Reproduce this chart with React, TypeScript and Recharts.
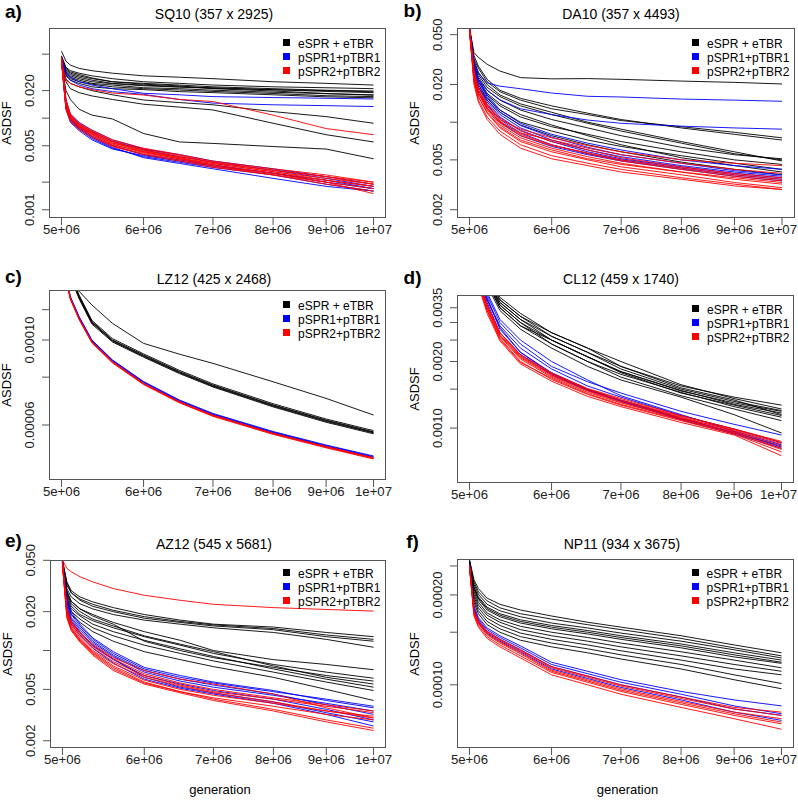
import React from 'react'
import { LineChart, Line, XAxis, YAxis } from 'recharts'

// generations at which each run is sampled
const GENS = [5.0e6, 5.05e6, 5.1e6, 5.2e6, 5.35e6, 5.6e6, 6.0e6, 6.5e6, 7.0e6, 8.0e6, 9.0e6, 1.0e7]
const X_TICKS = [5e6, 6e6, 7e6, 8e6, 9e6, 1e7]
const X_LABELS = ['5e+06', '6e+06', '7e+06', '8e+06', '9e+06', '1e+07']
const X_DOMAIN = [4.8634e6, 1.0281e7]

const SERIES_NAMES = ['eSPR + eTBR', 'pSPR1+pTBR1', 'pSPR2+pTBR2']
const SERIES_COLORS = ['#000000', '#0000FF', '#FF0000']

// ---- a) SQ10 ----
const SQ10_BLACK = [
  [0.054, 0.042, 0.038, 0.035, 0.033, 0.031, 0.029, 0.028, 0.027, 0.025, 0.024, 0.023],
  [0.048, 0.036, 0.033, 0.031, 0.029, 0.027, 0.025, 0.024, 0.023, 0.022, 0.0215, 0.021],
  [0.046, 0.034, 0.031, 0.029, 0.027, 0.025, 0.024, 0.023, 0.022, 0.021, 0.0202, 0.0198],
  [0.044, 0.033, 0.030, 0.028, 0.026, 0.024, 0.023, 0.022, 0.0215, 0.0205, 0.020, 0.0194],
  [0.042, 0.031, 0.028, 0.026, 0.024, 0.023, 0.0215, 0.021, 0.0202, 0.0192, 0.0185, 0.018],
  [0.043, 0.030, 0.027, 0.025, 0.0235, 0.022, 0.021, 0.0203, 0.0196, 0.0186, 0.0176, 0.0172],
  [0.047, 0.035, 0.032, 0.030, 0.0275, 0.025, 0.0235, 0.0225, 0.021, 0.0198, 0.0186, 0.0178],
  [0.041, 0.029, 0.026, 0.024, 0.022, 0.021, 0.0205, 0.0195, 0.019, 0.018, 0.0171, 0.0167],
  [0.045, 0.032, 0.029, 0.027, 0.025, 0.0238, 0.0226, 0.0218, 0.0212, 0.0204, 0.0196, 0.019],
  [0.041, 0.027, 0.024, 0.022, 0.020, 0.018, 0.0158, 0.0148, 0.014, 0.0118, 0.0104, 0.0088],
  [0.039, 0.025, 0.021, 0.019, 0.0175, 0.016, 0.0142, 0.0132, 0.0123, 0.0088, 0.0066, 0.0055],
  [0.041, 0.020, 0.016, 0.0125, 0.0108, 0.0098, 0.0068, 0.0055, 0.0053, 0.0049, 0.0046, 0.0036],
]
const SQ10_BLUE = [
  [0.047, 0.032, 0.028, 0.025, 0.023, 0.021, 0.0187, 0.018, 0.0172, 0.0168, 0.0165, 0.0162],
  [0.045, 0.030, 0.026, 0.023, 0.021, 0.0195, 0.0182, 0.016, 0.0146, 0.014, 0.0137, 0.0134],
  [0.045, 0.0145, 0.0100, 0.0080, 0.0064, 0.0050, 0.0040, 0.0035, 0.0031, 0.0025, 0.0020, 0.0017],
  [0.043, 0.0130, 0.0094, 0.0076, 0.0060, 0.0047, 0.0038, 0.0033, 0.0029, 0.0024, 0.0019, 0.0016],
  [0.046, 0.0155, 0.0108, 0.0086, 0.0071, 0.0056, 0.0045, 0.0038, 0.0033, 0.0027, 0.0022, 0.0018],
  [0.044, 0.0138, 0.0097, 0.0078, 0.0062, 0.0048, 0.0037, 0.0032, 0.0028, 0.0022, 0.0018, 0.0016],
  [0.047, 0.0160, 0.0110, 0.0090, 0.0074, 0.0058, 0.0046, 0.0040, 0.0034, 0.0028, 0.0023, 0.0019],
  [0.042, 0.0125, 0.0090, 0.0073, 0.0058, 0.0046, 0.0039, 0.0034, 0.0030, 0.0025, 0.0021, 0.0017],
]
const SQ10_RED = [
  [0.042, 0.026, 0.024, 0.022, 0.0205, 0.0188, 0.0179, 0.016, 0.0152, 0.0108, 0.0077, 0.0066],
  [0.046, 0.0150, 0.0105, 0.0084, 0.0070, 0.0055, 0.0044, 0.0038, 0.0033, 0.0027, 0.0023, 0.0019],
  [0.044, 0.0135, 0.0098, 0.0080, 0.0066, 0.0052, 0.0042, 0.0036, 0.0031, 0.0025, 0.0021, 0.0018],
  [0.047, 0.0158, 0.0112, 0.0088, 0.0074, 0.0058, 0.0047, 0.0040, 0.0034, 0.0028, 0.0024, 0.0020],
  [0.043, 0.0125, 0.0092, 0.0075, 0.0062, 0.0049, 0.0040, 0.0034, 0.0029, 0.0024, 0.0019, 0.0016],
  [0.045, 0.0142, 0.0100, 0.0082, 0.0068, 0.0054, 0.0043, 0.0037, 0.0032, 0.0026, 0.0022, 0.0019],
  [0.046, 0.0148, 0.0108, 0.0086, 0.0072, 0.0056, 0.0045, 0.0037, 0.0030, 0.0025, 0.0020, 0.0017],
  [0.042, 0.0130, 0.0095, 0.0078, 0.0064, 0.0050, 0.0041, 0.0035, 0.0030, 0.0024, 0.0020, 0.0015],
  [0.044, 0.0140, 0.0102, 0.0083, 0.0069, 0.0053, 0.0046, 0.0039, 0.0033, 0.0027, 0.0023, 0.0020],
  [0.045, 0.0146, 0.0103, 0.0081, 0.0067, 0.0051, 0.0043, 0.0036, 0.0032, 0.0026, 0.0021, 0.0018],
]
const SQ10_Y_TICKS = [0.001, 0.002, 0.005, 0.01, 0.02, 0.05]
const SQ10_Y_LABELS = ['0.001', '', '0.005', '', '0.020', '']

// ---- b) DA10 ----
const DA10_BLACK = [
  [0.0565, 0.036, 0.033, 0.029, 0.0256, 0.0227, 0.0222, 0.0223, 0.022, 0.0213, 0.0208, 0.0202],
  [0.0565, 0.034, 0.028, 0.022, 0.018, 0.0155, 0.0135, 0.0118, 0.0105, 0.0090, 0.0080, 0.0072],
  [0.0565, 0.032, 0.027, 0.021, 0.0175, 0.0150, 0.0128, 0.0115, 0.0103, 0.0092, 0.0083, 0.0075],
  [0.056, 0.030, 0.024, 0.019, 0.0160, 0.0135, 0.0115, 0.0098, 0.0085, 0.0068, 0.0056, 0.0050],
  [0.056, 0.029, 0.023, 0.018, 0.0150, 0.0125, 0.0105, 0.0090, 0.0078, 0.0063, 0.0055, 0.0051],
  [0.0565, 0.031, 0.025, 0.020, 0.0165, 0.0140, 0.0120, 0.0100, 0.0088, 0.0070, 0.0058, 0.0049],
  [0.055, 0.027, 0.021, 0.0165, 0.0135, 0.0110, 0.0092, 0.0080, 0.0070, 0.0058, 0.0050, 0.0046],
  [0.055, 0.026, 0.020, 0.0155, 0.0125, 0.0100, 0.0085, 0.0072, 0.0064, 0.0054, 0.0047, 0.0042],
  [0.056, 0.028, 0.022, 0.017, 0.0140, 0.0115, 0.0095, 0.0078, 0.0066, 0.0052, 0.0045, 0.0040],
  [0.055, 0.025, 0.019, 0.015, 0.0120, 0.0095, 0.0078, 0.0066, 0.0058, 0.0048, 0.0042, 0.0038],
]
const DA10_BLUE = [
  [0.0565, 0.030, 0.0247, 0.0206, 0.0194, 0.0185, 0.0171, 0.0161, 0.0159, 0.0153, 0.0150, 0.0147],
  [0.0565, 0.028, 0.022, 0.018, 0.0151, 0.0128, 0.0115, 0.0104, 0.0098, 0.0093, 0.0090, 0.0088],
  [0.056, 0.026, 0.020, 0.0150, 0.0115, 0.0090, 0.0072, 0.0060, 0.0053, 0.0045, 0.0040, 0.0037],
  [0.055, 0.024, 0.018, 0.0138, 0.0105, 0.0082, 0.0066, 0.0056, 0.0050, 0.0043, 0.0038, 0.0035],
  [0.056, 0.028, 0.022, 0.0165, 0.0125, 0.0098, 0.0080, 0.0068, 0.0060, 0.0050, 0.0045, 0.0042],
  [0.055, 0.022, 0.017, 0.0130, 0.0100, 0.0078, 0.0064, 0.0055, 0.0049, 0.0042, 0.0037, 0.0034],
  [0.055, 0.025, 0.019, 0.0145, 0.0110, 0.0086, 0.0070, 0.0058, 0.0051, 0.0044, 0.0039, 0.0036],
  [0.056, 0.027, 0.021, 0.0160, 0.0120, 0.0094, 0.0076, 0.0063, 0.0055, 0.0047, 0.0041, 0.0038],
]
const DA10_RED = [
  [0.056, 0.024, 0.017, 0.0125, 0.0095, 0.0075, 0.0062, 0.0053, 0.0047, 0.0040, 0.0035, 0.0032],
  [0.055, 0.022, 0.016, 0.0118, 0.0090, 0.0070, 0.0058, 0.0050, 0.0044, 0.0038, 0.0033, 0.0030],
  [0.056, 0.026, 0.018, 0.0135, 0.0102, 0.0080, 0.0066, 0.0056, 0.0049, 0.0042, 0.0037, 0.0034],
  [0.054, 0.021, 0.015, 0.0110, 0.0085, 0.0066, 0.0054, 0.0047, 0.0042, 0.0036, 0.0032, 0.0029],
  [0.055, 0.023, 0.017, 0.0128, 0.0098, 0.0078, 0.0065, 0.0057, 0.0050, 0.0043, 0.0038, 0.0035],
  [0.056, 0.025, 0.019, 0.0140, 0.0108, 0.0085, 0.0070, 0.0060, 0.0052, 0.0044, 0.0039, 0.0036],
  [0.054, 0.020, 0.0145, 0.0105, 0.0080, 0.0062, 0.0051, 0.0045, 0.0040, 0.0035, 0.0031, 0.0029],
  [0.055, 0.024, 0.018, 0.0130, 0.0100, 0.0082, 0.0072, 0.0062, 0.0055, 0.0047, 0.0042, 0.0039],
  [0.055, 0.022, 0.016, 0.0120, 0.0092, 0.0072, 0.0060, 0.0051, 0.0046, 0.0040, 0.0036, 0.0033],
  [0.056, 0.025, 0.018, 0.0135, 0.0105, 0.0088, 0.0075, 0.0065, 0.0058, 0.0050, 0.0047, 0.0045],
]
const DA10_Y_TICKS = [0.002, 0.005, 0.01, 0.02, 0.05]
const DA10_Y_LABELS = ['0.002', '0.005', '', '0.020', '0.050']

// ---- c) LZ12 ----
const LZ12_BLACK = [
  [1.85e-4, 1.62e-4, 1.50e-4, 1.34e-4, 1.234e-4, 1.105e-4, 9.8e-5, 9.18e-5, 8.69e-5, 7.78e-5, 7.04e-5, 6.37e-5],
  [1.80e-4, 1.60e-4, 1.48e-4, 1.30e-4, 1.117e-4, 1.00e-4, 9.14e-5, 8.27e-5, 7.63e-5, 6.77e-5, 6.18e-5, 5.76e-5],
  [1.79e-4, 1.59e-4, 1.47e-4, 1.29e-4, 1.108e-4, 9.93e-5, 9.06e-5, 8.21e-5, 7.57e-5, 6.72e-5, 6.13e-5, 5.72e-5],
  [1.81e-4, 1.61e-4, 1.49e-4, 1.31e-4, 1.125e-4, 1.008e-4, 9.2e-5, 8.33e-5, 7.68e-5, 6.82e-5, 6.22e-5, 5.8e-5],
  [1.78e-4, 1.58e-4, 1.46e-4, 1.28e-4, 1.10e-4, 9.88e-5, 9.02e-5, 8.17e-5, 7.54e-5, 6.69e-5, 6.10e-5, 5.69e-5],
  [1.80e-4, 1.60e-4, 1.475e-4, 1.295e-4, 1.113e-4, 9.97e-5, 9.1e-5, 8.24e-5, 7.6e-5, 6.75e-5, 6.16e-5, 5.74e-5],
]
const LZ12_BLUE = [
  [1.76e-4, 1.46e-4, 1.295e-4, 1.148e-4, 9.98e-5, 8.85e-5, 7.77e-5, 6.95e-5, 6.41e-5, 5.75e-5, 5.3e-5, 4.96e-5],
  [1.75e-4, 1.455e-4, 1.29e-4, 1.143e-4, 9.94e-5, 8.81e-5, 7.74e-5, 6.92e-5, 6.39e-5, 5.73e-5, 5.28e-5, 4.94e-5],
  [1.76e-4, 1.462e-4, 1.297e-4, 1.15e-4, 1.0e-4, 8.87e-5, 7.79e-5, 6.97e-5, 6.43e-5, 5.77e-5, 5.32e-5, 4.98e-5],
]
const LZ12_RED = [
  [1.75e-4, 1.45e-4, 1.285e-4, 1.139e-4, 9.9e-5, 8.78e-5, 7.71e-5, 6.9e-5, 6.37e-5, 5.71e-5, 5.27e-5, 4.93e-5],
  [1.74e-4, 1.445e-4, 1.28e-4, 1.134e-4, 9.86e-5, 8.74e-5, 7.68e-5, 6.87e-5, 6.34e-5, 5.69e-5, 5.25e-5, 4.91e-5],
  [1.745e-4, 1.448e-4, 1.283e-4, 1.136e-4, 9.88e-5, 8.76e-5, 7.69e-5, 6.88e-5, 6.35e-5, 5.7e-5, 5.26e-5, 4.92e-5],
  [1.73e-4, 1.44e-4, 1.276e-4, 1.13e-4, 9.82e-5, 8.71e-5, 7.65e-5, 6.85e-5, 6.32e-5, 5.67e-5, 5.23e-5, 4.89e-5],
]
const LZ12_Y_TICKS = [0.00006, 0.00008, 0.0001, 0.00012]
const LZ12_Y_LABELS = ['0.00006', '', '0.00010', '']

// ---- d) CL12 ----
const CL12_BLACK = [
  [0.0082, 0.0070, 0.0060, 0.0049, 0.0039, 0.0033, 0.0027, 0.0023, 0.0019, 0.00155, 0.00138, 0.00127],
  [0.0080, 0.0068, 0.0058, 0.0047, 0.0037, 0.0031, 0.0026, 0.0022, 0.00185, 0.00150, 0.00132, 0.00120],
  [0.0079, 0.0067, 0.0057, 0.0046, 0.0036, 0.0030, 0.0025, 0.0021, 0.0018, 0.00148, 0.00128, 0.00117],
  [0.0081, 0.0069, 0.0059, 0.0048, 0.0038, 0.0032, 0.0026, 0.0022, 0.0019, 0.00152, 0.00134, 0.00115],
  [0.0078, 0.0066, 0.0056, 0.0045, 0.0035, 0.0029, 0.0024, 0.0020, 0.00175, 0.00145, 0.00125, 0.00112],
  [0.0080, 0.0068, 0.0058, 0.0047, 0.0036, 0.0030, 0.0024, 0.0020, 0.0017, 0.00140, 0.00122, 0.00108],
  [0.0077, 0.0065, 0.0055, 0.0044, 0.0034, 0.0028, 0.0023, 0.0019, 0.00165, 0.00138, 0.00115, 0.00095],
  [0.0082, 0.0070, 0.0060, 0.0049, 0.0038, 0.0032, 0.0027, 0.0023, 0.0020, 0.00157, 0.00136, 0.00122],
  [0.0079, 0.0067, 0.0057, 0.0046, 0.0035, 0.0029, 0.0025, 0.0021, 0.0018, 0.00147, 0.00130, 0.00119],
  [0.0080, 0.0068, 0.0058, 0.0047, 0.0037, 0.0031, 0.0025, 0.0021, 0.00178, 0.00144, 0.00127, 0.00114],
]
const CL12_BLUE = [
  [0.0070, 0.0060, 0.0051, 0.0040, 0.0030, 0.0024, 0.0019, 0.00162, 0.00144, 0.00119, 0.00104, 0.00093],
  [0.0068, 0.0058, 0.0049, 0.0038, 0.0029, 0.0023, 0.00185, 0.00155, 0.00138, 0.00114, 0.00099, 0.00086],
  [0.0069, 0.0059, 0.0050, 0.0039, 0.0028, 0.0022, 0.00178, 0.00150, 0.00134, 0.00111, 0.00095, 0.00083],
  [0.0067, 0.0057, 0.0048, 0.0037, 0.0027, 0.00215, 0.00174, 0.00148, 0.00132, 0.00109, 0.00094, 0.00081],
  [0.0071, 0.0061, 0.0052, 0.0041, 0.0031, 0.0025, 0.0020, 0.00165, 0.00140, 0.00115, 0.00097, 0.00084],
  [0.0068, 0.0058, 0.0049, 0.0038, 0.00285, 0.0022, 0.00176, 0.00149, 0.00133, 0.00110, 0.00096, 0.00082],
]
const CL12_RED = [
  [0.0066, 0.0056, 0.0047, 0.0036, 0.0027, 0.00215, 0.00178, 0.00151, 0.00136, 0.00114, 0.00099, 0.00086],
  [0.0065, 0.0055, 0.0046, 0.0035, 0.0026, 0.00205, 0.00170, 0.00145, 0.00130, 0.00110, 0.00096, 0.00081],
  [0.0064, 0.0054, 0.0045, 0.0034, 0.00255, 0.00200, 0.00166, 0.00142, 0.00127, 0.00108, 0.00094, 0.00078],
  [0.0066, 0.0056, 0.0047, 0.0036, 0.00265, 0.00210, 0.00174, 0.00148, 0.00133, 0.00112, 0.00097, 0.00083],
  [0.0063, 0.0053, 0.0044, 0.0033, 0.00248, 0.00195, 0.00163, 0.00139, 0.00125, 0.00106, 0.00093, 0.00075],
  [0.0065, 0.0055, 0.0046, 0.0035, 0.00262, 0.00208, 0.00172, 0.00147, 0.00131, 0.00111, 0.00098, 0.00085],
  [0.0064, 0.0054, 0.0045, 0.0034, 0.00252, 0.00198, 0.00168, 0.00143, 0.00128, 0.00109, 0.00095, 0.00080],
  [0.0066, 0.0056, 0.0047, 0.0036, 0.00270, 0.00212, 0.00176, 0.00150, 0.00134, 0.00113, 0.00099, 0.00087],
]
const CL12_Y_TICKS = [0.001, 0.0015, 0.002, 0.0025, 0.003, 0.0035]
const CL12_Y_LABELS = ['0.0010', '', '0.0020', '', '', '0.0035']

// ---- e) AZ12 ----
const AZ12_BLACK = [
  [0.050, 0.034, 0.029, 0.026, 0.0238, 0.0215, 0.019, 0.0172, 0.016, 0.0152, 0.0138, 0.0128],
  [0.049, 0.032, 0.028, 0.025, 0.0228, 0.0205, 0.0183, 0.0168, 0.0158, 0.0148, 0.0132, 0.0122],
  [0.050, 0.033, 0.028, 0.0245, 0.022, 0.0200, 0.0178, 0.0165, 0.0155, 0.0145, 0.0128, 0.0118],
  [0.048, 0.030, 0.026, 0.023, 0.021, 0.0190, 0.0172, 0.0160, 0.0150, 0.0138, 0.0122, 0.0106],
  [0.049, 0.029, 0.024, 0.021, 0.0190, 0.0165, 0.0140, 0.0120, 0.0100, 0.0085, 0.0078, 0.0071],
  [0.048, 0.027, 0.022, 0.019, 0.0170, 0.0150, 0.0128, 0.0110, 0.0095, 0.0078, 0.0068, 0.0061],
  [0.049, 0.028, 0.023, 0.020, 0.0175, 0.0155, 0.0130, 0.0112, 0.0098, 0.0076, 0.0062, 0.0055],
  [0.047, 0.026, 0.021, 0.0185, 0.0160, 0.0140, 0.0120, 0.0103, 0.0090, 0.0072, 0.0060, 0.0052],
  [0.048, 0.025, 0.020, 0.0175, 0.0150, 0.0130, 0.0110, 0.0095, 0.0083, 0.0068, 0.0057, 0.0049],
  [0.047, 0.024, 0.019, 0.0165, 0.0140, 0.0118, 0.0098, 0.0085, 0.0075, 0.0062, 0.0050, 0.0041],
  [0.049, 0.028, 0.024, 0.021, 0.0185, 0.0160, 0.0118, 0.0100, 0.0088, 0.0074, 0.0064, 0.0058],
]
const AZ12_BLUE = [
  [0.050, 0.024, 0.019, 0.0155, 0.0122, 0.0095, 0.0072, 0.0062, 0.0056, 0.0048, 0.0042, 0.0037],
  [0.049, 0.022, 0.0175, 0.0145, 0.0115, 0.0090, 0.0068, 0.0058, 0.0052, 0.0045, 0.0039, 0.0034],
  [0.050, 0.023, 0.018, 0.0150, 0.0118, 0.0092, 0.0070, 0.0060, 0.0054, 0.0046, 0.0038, 0.0032],
  [0.048, 0.021, 0.0165, 0.0138, 0.0108, 0.0085, 0.0064, 0.0055, 0.0049, 0.0042, 0.0035, 0.0029],
  [0.049, 0.020, 0.016, 0.0132, 0.0104, 0.0080, 0.0060, 0.0051, 0.0046, 0.0039, 0.0032, 0.0026],
  [0.050, 0.025, 0.020, 0.0160, 0.0125, 0.0098, 0.0074, 0.0064, 0.0057, 0.0049, 0.0041, 0.0036],
  [0.048, 0.021, 0.017, 0.0140, 0.0110, 0.0086, 0.0062, 0.0052, 0.0047, 0.0040, 0.0033, 0.0028],
]
const AZ12_RED = [
  [0.050, 0.0433, 0.0407, 0.0373, 0.0340, 0.0302, 0.0268, 0.0245, 0.0228, 0.0215, 0.0208, 0.0202],
  [0.048, 0.020, 0.0160, 0.0130, 0.0105, 0.0082, 0.0064, 0.0054, 0.0048, 0.0042, 0.0037, 0.0033],
  [0.047, 0.019, 0.0150, 0.0122, 0.0098, 0.0076, 0.0059, 0.0050, 0.0045, 0.0039, 0.0034, 0.0031],
  [0.049, 0.021, 0.0165, 0.0135, 0.0108, 0.0086, 0.0066, 0.0056, 0.0050, 0.0043, 0.0038, 0.0034],
  [0.046, 0.018, 0.0145, 0.0118, 0.0094, 0.0072, 0.0056, 0.0048, 0.0043, 0.0037, 0.0032, 0.0029],
  [0.048, 0.020, 0.0155, 0.0126, 0.0100, 0.0079, 0.0062, 0.0053, 0.0047, 0.0040, 0.0034, 0.0030],
  [0.047, 0.019, 0.0148, 0.0120, 0.0096, 0.0074, 0.0057, 0.0048, 0.0042, 0.0035, 0.0029, 0.0025],
  [0.049, 0.021, 0.0168, 0.0138, 0.0112, 0.0088, 0.0070, 0.0060, 0.0055, 0.0046, 0.0036, 0.0030],
  [0.046, 0.018, 0.0142, 0.0116, 0.0092, 0.0070, 0.0055, 0.0047, 0.0041, 0.0034, 0.0028, 0.0024],
]
const AZ12_Y_TICKS = [0.002, 0.005, 0.01, 0.02, 0.05]
const AZ12_Y_LABELS = ['0.002', '0.005', '', '0.020', '0.050']

// ---- f) NP11 ----
const NP11_BLACK = [
  [2.62e-4, 2.25e-4, 2.10e-4, 1.95e-4, 1.86e-4, 1.78e-4, 1.70e-4, 1.62e-4, 1.56e-4, 1.46e-4, 1.36e-4, 1.28e-4],
  [2.61e-4, 2.21e-4, 2.05e-4, 1.91e-4, 1.81e-4, 1.73e-4, 1.66e-4, 1.59e-4, 1.53e-4, 1.43e-4, 1.33e-4, 1.25e-4],
  [2.60e-4, 2.17e-4, 2.01e-4, 1.86e-4, 1.77e-4, 1.69e-4, 1.61e-4, 1.55e-4, 1.49e-4, 1.40e-4, 1.31e-4, 1.23e-4],
  [2.60e-4, 2.13e-4, 1.97e-4, 1.82e-4, 1.73e-4, 1.65e-4, 1.58e-4, 1.52e-4, 1.46e-4, 1.37e-4, 1.28e-4, 1.21e-4],
  [2.59e-4, 2.09e-4, 1.93e-4, 1.78e-4, 1.69e-4, 1.61e-4, 1.54e-4, 1.48e-4, 1.42e-4, 1.33e-4, 1.24e-4, 1.18e-4],
  [2.58e-4, 2.05e-4, 1.89e-4, 1.74e-4, 1.65e-4, 1.57e-4, 1.50e-4, 1.44e-4, 1.38e-4, 1.29e-4, 1.21e-4, 1.14e-4],
  [2.58e-4, 2.01e-4, 1.85e-4, 1.71e-4, 1.62e-4, 1.53e-4, 1.46e-4, 1.40e-4, 1.34e-4, 1.25e-4, 1.17e-4, 1.11e-4],
  [2.57e-4, 1.97e-4, 1.81e-4, 1.67e-4, 1.58e-4, 1.49e-4, 1.42e-4, 1.36e-4, 1.30e-4, 1.21e-4, 1.13e-4, 1.08e-4],
  [2.56e-4, 1.93e-4, 1.77e-4, 1.63e-4, 1.54e-4, 1.45e-4, 1.38e-4, 1.32e-4, 1.26e-4, 1.17e-4, 1.08e-4, 1.01e-4],
  [2.55e-4, 1.89e-4, 1.73e-4, 1.59e-4, 1.50e-4, 1.41e-4, 1.34e-4, 1.28e-4, 1.22e-4, 1.13e-4, 1.04e-4, 9.7e-5],
  [2.59e-4, 2.11e-4, 1.95e-4, 1.80e-4, 1.71e-4, 1.63e-4, 1.56e-4, 1.50e-4, 1.44e-4, 1.35e-4, 1.26e-4, 1.19e-4],
]
const NP11_BLUE = [
  [2.55e-4, 1.84e-4, 1.68e-4, 1.55e-4, 1.46e-4, 1.35e-4, 1.19e-4, 1.11e-4, 1.04e-4, 9.5e-5, 8.9e-5, 8.5e-5],
  [2.52e-4, 1.79e-4, 1.64e-4, 1.51e-4, 1.42e-4, 1.31e-4, 1.15e-4, 1.07e-4, 1.00e-4, 9.1e-5, 8.3e-5, 7.9e-5],
  [2.50e-4, 1.77e-4, 1.62e-4, 1.49e-4, 1.40e-4, 1.29e-4, 1.13e-4, 1.05e-4, 9.8e-5, 8.9e-5, 8.1e-5, 7.6e-5],
  [2.53e-4, 1.81e-4, 1.66e-4, 1.53e-4, 1.44e-4, 1.33e-4, 1.17e-4, 1.09e-4, 1.02e-4, 9.3e-5, 8.5e-5, 8.0e-5],
]
const NP11_RED = [
  [2.50e-4, 1.75e-4, 1.61e-4, 1.48e-4, 1.39e-4, 1.28e-4, 1.12e-4, 1.04e-4, 9.7e-5, 8.8e-5, 8.1e-5, 7.7e-5],
  [2.48e-4, 1.72e-4, 1.58e-4, 1.45e-4, 1.36e-4, 1.25e-4, 1.10e-4, 1.02e-4, 9.5e-5, 8.6e-5, 7.9e-5, 7.4e-5],
  [2.51e-4, 1.77e-4, 1.63e-4, 1.50e-4, 1.41e-4, 1.30e-4, 1.14e-4, 1.06e-4, 9.9e-5, 9.0e-5, 8.3e-5, 7.9e-5],
  [2.47e-4, 1.70e-4, 1.56e-4, 1.43e-4, 1.34e-4, 1.23e-4, 1.08e-4, 1.00e-4, 9.3e-5, 8.4e-5, 7.7e-5, 7.1e-5],
  [2.49e-4, 1.74e-4, 1.60e-4, 1.47e-4, 1.38e-4, 1.27e-4, 1.11e-4, 1.03e-4, 9.6e-5, 8.7e-5, 8.0e-5, 7.5e-5],
  [2.52e-4, 1.78e-4, 1.64e-4, 1.51e-4, 1.42e-4, 1.31e-4, 1.15e-4, 1.07e-4, 1.00e-4, 9.1e-5, 8.4e-5, 8.1e-5],
]
const NP11_Y_TICKS = [0.0001, 0.00015, 0.0002, 0.00025]
const NP11_Y_LABELS = ['0.00010', '', '0.00020', '']

const FONT = "'Liberation Sans', Arial, Helvetica, sans-serif"
const CELL_W = 399

// layout: cell = chart svg area, box = plot frame in page px
const PANELS = [
  { letter: 'a)', title: 'SQ10 (357 x 2925)', black: SQ10_BLACK, blue: SQ10_BLUE, red: SQ10_RED,
    yTicks: SQ10_Y_TICKS, yLabels: SQ10_Y_LABELS, yDomain: [0.000812, 0.0966],
    cell: { x: 0, y: 0, h: 265 }, box: { l: 49, t: 28, r: 386, b: 218 },
    titleX: 214, titleY: 13.5, letterY: 12, legendX: 283, legendY: 42.5, xLabel: false },
  { letter: 'b)', title: 'DA10 (357 x 4493)', black: DA10_BLACK, blue: DA10_BLUE, red: DA10_RED,
    yTicks: DA10_Y_TICKS, yLabels: DA10_Y_LABELS, yDomain: [0.001717, 0.05655],
    cell: { x: 399, y: 0, h: 265 }, box: { l: 457, t: 28, r: 794.5, b: 218 },
    titleX: 621, titleY: 13.5, letterY: 10.5, legendX: 692, legendY: 42.5, xLabel: false },
  { letter: 'c)', title: 'LZ12 (425 x 2468)', black: LZ12_BLACK, blue: LZ12_BLUE, red: LZ12_RED,
    yTicks: LZ12_Y_TICKS, yLabels: LZ12_Y_LABELS, yDomain: [4.311e-5, 1.3505e-4],
    cell: { x: 0, y: 265, h: 265 }, box: { l: 49, t: 290, r: 386, b: 480 },
    titleX: 214, titleY: 278.5, letterY: 277, legendX: 283, legendY: 305, xLabel: false },
  { letter: 'd)', title: 'CL12 (459 x 1740)', black: CL12_BLACK, blue: CL12_BLUE, red: CL12_RED,
    yTicks: CL12_Y_TICKS, yLabels: CL12_Y_LABELS, yDomain: [5.645e-4, 0.003997],
    cell: { x: 399, y: 265, h: 265 }, box: { l: 457, t: 295, r: 794, b: 483 },
    titleX: 621, titleY: 278.5, letterY: 278, legendX: 692, legendY: 308.5, xLabel: false },
  { letter: 'e)', title: 'AZ12 (545 x 5681)', black: AZ12_BLACK, blue: AZ12_BLUE, red: AZ12_RED,
    yTicks: AZ12_Y_TICKS, yLabels: AZ12_Y_LABELS, yDomain: [0.001757, 0.05027],
    cell: { x: 0, y: 530, h: 270 }, box: { l: 50, t: 560, r: 386, b: 748 },
    titleX: 214, titleY: 544, letterY: 541, legendX: 283, legendY: 572.5, xLabel: true },
  { letter: 'f)', title: 'NP11 (934 x 3675)', black: NP11_BLACK, blue: NP11_BLUE, red: NP11_RED,
    yTicks: NP11_Y_TICKS, yLabels: NP11_Y_LABELS, yDomain: [6.143e-5, 2.638e-4],
    cell: { x: 399, y: 530, h: 270 }, box: { l: 457, t: 559, r: 794, b: 748 },
    titleX: 622, titleY: 544, letterY: 542, legendX: 691.5, legendY: 572.5, xLabel: true },
]

function buildRows(p: any) {
  return GENS.map((g, i) => {
    const row: any = { g }
    p.black.forEach((s: number[], j: number) => { row['k' + j] = s[i] })
    p.blue.forEach((s: number[], j: number) => { row['b' + j] = s[i] })
    p.red.forEach((s: number[], j: number) => { row['r' + j] = s[i] })
    return row
  })
}

function CenteredText({ x, y, text, size, bold, rotate }: any) {
  return (
    <div style={{
      position: 'absolute', left: x - 100, top: y - 10, width: 200, height: 20,
      lineHeight: '20px', textAlign: 'center', fontSize: size, fontWeight: bold ? 'bold' : 'normal',
      color: '#000', whiteSpace: 'nowrap', transform: rotate ? 'rotate(-90deg)' : undefined,
    }}>{text}</div>
  )
}

// x tick labels, kept inside the svg so the last one at the page edge is not cut
const xTick = (props: any) => {
  const { x, y, payload } = props
  const label = X_LABELS[X_TICKS.indexOf(payload.value)] ?? ''
  const half = 18.5
  const tx = Math.min(x, CELL_W - 1 - half)
  return (
    <text x={tx} y={y} dy="0.71em" textAnchor="middle" fontSize={13.2} fill="#222">{label}</text>
  )
}

function Panel({ p }: any) {
  const rows = buildRows(p)
  const { l, t, r, b } = p.box
  const margin = { top: t - p.cell.y, right: p.cell.x + CELL_W - r, left: 0, bottom: 0 }
  const yW = l - p.cell.x
  const xH = p.cell.h - (b - p.cell.y)

  const yTick = (props: any) => {
    const { x, y, payload } = props
    const idx = p.yTicks.findIndex((v: number) => Math.abs(v - payload.value) < v * 1e-6)
    const label = idx >= 0 ? p.yLabels[idx] : ''
    const bx = x - 6
    return (
      <text x={bx} y={y} transform={`rotate(-90 ${bx} ${y})`} textAnchor="middle"
        fontSize={13} fill="#222">{label}</text>
    )
  }

  const groups = [
    { list: p.black, prefix: 'k', color: SERIES_COLORS[0] },
    { list: p.blue, prefix: 'b', color: SERIES_COLORS[1] },
    { list: p.red, prefix: 'r', color: SERIES_COLORS[2] },
  ]

  return (
    <>
      <div style={{ position: 'absolute', left: p.cell.x, top: p.cell.y }}>
        <LineChart width={CELL_W} height={p.cell.h} data={rows} margin={margin}>
          <XAxis dataKey="g" type="number" scale="log" domain={X_DOMAIN} allowDataOverflow
            ticks={X_TICKS} interval={0} height={xH} axisLine={false}
            tickLine={{ stroke: '#555' }} tickSize={7} tickMargin={0} tick={xTick} />
          <YAxis type="number" scale="log" domain={p.yDomain} allowDataOverflow
            ticks={p.yTicks} interval={0} width={yW} axisLine={false}
            tickLine={{ stroke: '#555' }} tickSize={7} tick={yTick} />
          {groups.map((grp) =>
            grp.list.map((_: any, j: number) => (
              <Line key={grp.prefix + j} dataKey={grp.prefix + j} stroke={grp.color}
                strokeWidth={1} strokeOpacity={0.9} dot={false} activeDot={false}
                isAnimationActive={false} type="linear" />
            ))
          )}
        </LineChart>
      </div>
      <div style={{
        position: 'absolute', left: l, top: t, width: r - l, height: b - t,
        border: '1px solid #555', boxSizing: 'border-box', pointerEvents: 'none',
      }} />
      <CenteredText x={p.titleX} y={p.titleY} text={p.title} size={14} />
      <CenteredText x={p.cell.x + 13.5} y={p.letterY} text={p.letter} size={19} bold />
      <CenteredText x={l - 42} y={(t + b) / 2} text="ASDSF" size={13} rotate />
      {p.xLabel && <CenteredText x={(l + r) / 2 + 2} y={790} text="generation" size={13} />}
      {SERIES_NAMES.map((name, i) => (
        <div key={name} style={{ position: 'absolute', left: p.legendX, top: p.legendY + i * 14 - 8, height: 16, lineHeight: '16px', fontSize: 12, whiteSpace: 'nowrap' }}>
          <span style={{ display: 'inline-block', width: 7, height: 7, background: SERIES_COLORS[i], marginRight: 8, verticalAlign: 'middle', position: 'relative', top: -1 }} />
          <span style={{ verticalAlign: 'middle' }}>{name}</span>
        </div>
      ))}
    </>
  )
}

export default function App() {
  return (
    <div style={{ position: 'absolute', left: 0, top: 0, width: 798, height: 800, background: '#fff', fontFamily: FONT, overflow: 'hidden' }}>
      {PANELS.map((p) => <Panel key={p.letter} p={p} />)}
    </div>
  )
}
